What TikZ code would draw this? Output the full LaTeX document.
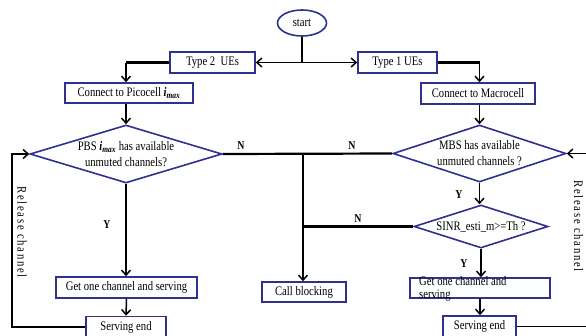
\documentclass[tikz,border=0pt]{standalone}
\usepackage{fontspec}
\setmainfont{Liberation Serif}[FakeStretch=0.82]
\newfontfamily\relfont{Liberation Serif}[FakeStretch=0.82,LetterSpace=13]
\usetikzlibrary{arrows.meta,shapes.geometric}
\definecolor{boxblue}{RGB}{46,49,146}
\newcommand\imax{\textbf{\textit{i}\textsubscript{\textit{max}}}}
\begin{document}
\begin{tikzpicture}[x=1pt,y=-1pt,
  txt/.style={font=\fontsize{13}{16}\selectfont},
  box/.style={txt,draw=boxblue,line width=1.6pt,rectangle,inner sep=0pt},
  decision/.style={txt,draw=boxblue,line width=1.6pt,diamond,inner sep=0pt,aspect=3.3,align=center},
  flow/.style={line width=1.5pt,-{Straight Barb[length=5pt,width=9pt]}},
  link/.style={line width=1.5pt},
  heavy/.style={line width=2.2pt},
  yn/.style={font=\bfseries\fontsize{12}{14}\selectfont},
  rel/.style={rotate=-90,font=\relfont\fontsize{13}{15}\selectfont}]
\useasboundingbox (0,0) rectangle (586,335);
\clip (0,0) rectangle (586,335);

% boxes and decisions
\node[draw=boxblue,ellipse,line width=1.6pt,minimum width=49pt,minimum height=26pt,inner sep=0pt,txt] (start) at (302,23) {start};
\node[box,minimum width=85pt,minimum height=21pt] (type2) at (212.5,62.5) {Type 2\ \ UEs};
\node[box,minimum width=79pt,minimum height=21pt] (type1) at (397.5,62.5) {Type 1 UEs};
\node[box,minimum width=128pt,minimum height=20pt] (pico) at (129,93) {Connect to Picocell \imax};
\node[box,minimum width=114pt,minimum height=21pt] (macro) at (478,93.5) {Connect to Macrocell};
\node[decision,minimum width=192pt,minimum height=58pt] (pbs) at (126,154) {PBS \imax{} has available\\unmuted channels?};
\node[decision,minimum width=173pt,minimum height=57pt] (mbs) at (479.5,153.5) {MBS has available\\unmuted channels ?};
\node[decision,minimum width=134pt,minimum height=43pt,aspect=3.1] (sinr) at (481,226.5) {SINR\_esti\_m>=Th ?};
\node[box,minimum width=141pt,minimum height=21pt] (getL) at (126.5,287.5) {Get one channel and serving};
\node[box,minimum width=84pt,minimum height=20pt] (block) at (304,292) {Call blocking};
\node[box,minimum width=140pt,minimum height=20pt] (getR) at (480,288) {};
\node[font=\fontsize{13}{13.5}\selectfont,anchor=west,align=left,inner sep=0pt] (getRtext) at (419,289) {Get one channel and\\serving};
\node[box,minimum width=80pt,minimum height=21pt] (endL) at (126,327) {Serving end};
\node[box,minimum width=73pt,minimum height=21pt] (endR) at (479.5,326.5) {Serving end};

% helper points
\coordinate (split) at (start.south |- type1.west);
\coordinate (nj) at (303,154);
\coordinate (railL) at (12,240);
\coordinate (railR) at (592,240);

% connectors
\draw[link] (start.south) -- (split);
\draw[flow] (split) -- (type2.east);
\draw[flow] (split) -- (type1.west);
\draw[heavy] (type2.west) -- (type2.west -| pbs.north);
\draw[flow] (type2.west -| pbs.north) -- (pico.north -| pbs.north);
\draw[heavy] (type1.east) -- (type1.east -| mbs.north);
\draw[flow] (type1.east -| mbs.north) -- (macro.north -| mbs.north);
\draw[flow] (pico.south -| pbs.north) -- (pbs.north);
\draw[flow] (macro.south -| mbs.north) -- (mbs.north);
\draw[heavy] (pbs.east) -- (mbs.west);
\draw[flow] (nj) -- (nj |- block.north);
\draw[heavy] (sinr.west) -- (sinr.west -| nj);
\draw[flow] (pbs.south) -- (pbs.south |- getL.north);
\draw[flow] (mbs.south) -- (mbs.south |- sinr.north);
\draw[flow] (sinr.south) -- (sinr.south |- getR.north);
\draw[flow] (getL.south) -- (endL.north);
\draw[flow] (getR.south) -- (getR.south |- endR.north);
\draw[flow] (endL.west) -| (railL) |- (pbs.west);
\draw[flow] (endR.east) -| (railR) |- (mbs.east);

% branch labels
\node[yn] (nL) at (241,146) {N};
\node[yn] (nR) at (352,146) {N};
\node[yn] (nS) at (358,219) {N};
\node[yn] (yL) at (107,225) {Y};
\node[yn] (yM) at (459,195) {Y};
\node[yn] (yS) at (464,264) {Y};
\node[rel] (relL) at (22,232) {Release channel};
\node[rel] (relR) at (578.5,226) {Release channel};
\end{tikzpicture}
\end{document}
